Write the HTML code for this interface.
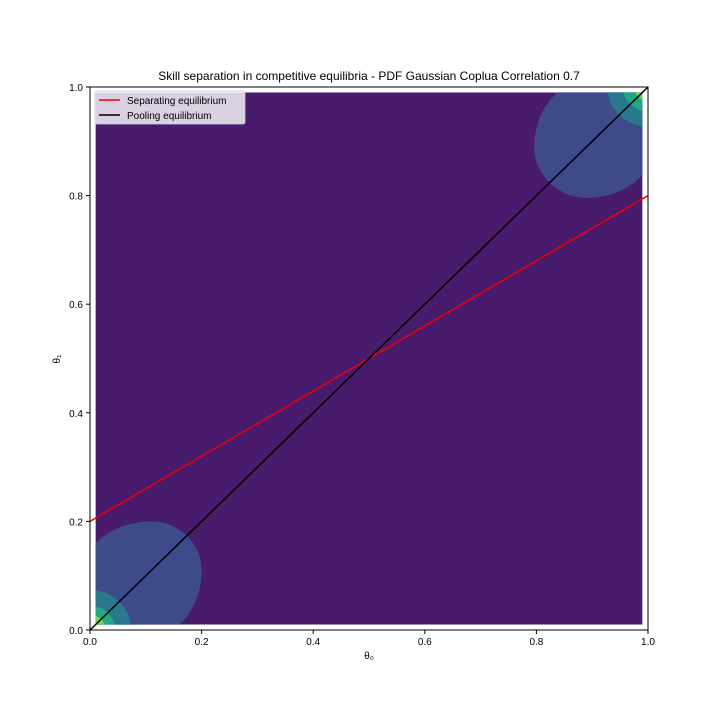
<!DOCTYPE html>
<html><head><meta charset="utf-8"><style>
body{margin:0;background:#fff;}
svg{font-family:"Liberation Sans","DejaVu Sans",sans-serif;}
</style></head><body>
<svg id="chart" width="720" height="720" viewBox="0 0 720 720" xmlns="http://www.w3.org/2000/svg">
<rect width="720" height="720" fill="#fff"/>
<defs><clipPath id="fillclip"><rect id="fcr" x="0" y="0" width="0" height="0"/></clipPath></defs>
<g id="contours" clip-path="url(#fillclip)"></g>
<g id="lines"></g>
<g id="axes"></g>
<text x="369" y="80" text-anchor="middle" font-size="12">Skill separation in competitive equilibria - PDF Gaussian Coplua Correlation 0.7</text>
<text x="369" y="659" text-anchor="middle" font-size="10">θ₀</text>
<text x="60" y="359" text-anchor="middle" font-size="10" transform="rotate(-90 60 359)">θ₁</text>
<g>
<rect x="95" y="91" width="150" height="33" rx="2" fill="#fff" fill-opacity="0.8" stroke="#ccc" stroke-opacity="0.8"/>
<line x1="99" y1="100" x2="120" y2="100" stroke="#e00" stroke-width="1.5"/>
<text x="127" y="104" font-size="10">Separating equilibrium</text>
<line x1="99" y1="115" x2="120" y2="115" stroke="#000" stroke-width="1.5"/>
<text x="127" y="119" font-size="10">Pooling equilibrium</text>
</g>
</svg>
<script>
const ticks=[0,0.2,0.4,0.6,0.8,1.0];
const tickLabels=["0.0","0.2","0.4","0.6","0.8","1.0"];
const gridMin=[0.01];
const gridMax=[0.99];
// contour blobs: center, radius toward plot centre (inner), radius toward corner (outer), level
const blobCx=[0.11,0.89,0.0,0.0,0.0,0.0,1.0,1.0,1.0];
const blobCy=[0.11,0.89,0.0,0.0,0.0,0.0,1.0,1.0,1.0];
const blobRin=[0.09,0.094,0.074,0.045,0.028,0.014,0.073,0.045,0.025];
const blobRout=[0.12,0.12,0.074,0.045,0.028,0.014,0.073,0.045,0.025];
const blobLevel=[1,1,2,3,4,5,2,3,4];
const levelColors=["#481b6d","#3e4a89","#2a788e","#22a884","#7ad151","#fde725"];
const sepX=[0,1],sepY=[0.2,0.8];
const poolX=[0,1],poolY=[0,1];
const X0=90,X1=648,Y0=630,Y1=87;
const sx=v=>X0+v*(X1-X0), sy=v=>Y0-v*(Y0-Y1);
const NS="http://www.w3.org/2000/svg";
function mk(t,a,p){const e=document.createElementNS(NS,t);for(const k in a)e.setAttribute(k,a[k]);p.appendChild(e);return e;}
const fcr=document.getElementById('fcr');
fcr.setAttribute('x',sx(gridMin[0]));fcr.setAttribute('y',sy(gridMax[0]));
fcr.setAttribute('width',sx(gridMax[0])-sx(gridMin[0]));fcr.setAttribute('height',sy(gridMin[0])-sy(gridMax[0]));
const cg=document.getElementById('contours');
const bg=mk('rect',{x:sx(gridMin[0]),y:sy(gridMax[0]),width:sx(gridMax[0])-sx(gridMin[0]),height:sy(gridMin[0])-sy(gridMax[0]),fill:levelColors[0]},cg);


function blobPath(i){
 const cx=blobCx[i],cy=blobCy[i];
 const towardHigh=cx<0.5; // inner direction = toward plot centre
 let d='';
 for(let k=0;k<=72;k++){
  const a=k/72*2*Math.PI, c=Math.cos(a), s=Math.sin(a);
  const rx=((c>0)===towardHigh)?blobRin[i]:blobRout[i];
  const ry=((s>0)===towardHigh)?blobRin[i]:blobRout[i];
  d+=(k?'L':'M')+sx(cx+rx*c).toFixed(2)+','+sy(cy+ry*s).toFixed(2);
 }
 return d+'Z';
}
const order=blobLevel.map((l,i)=>i).sort((a,b)=>blobLevel[a]-blobLevel[b]);
order.forEach(i=>{
 const e=mk('path',{d:blobPath(i),fill:levelColors[blobLevel[i]]},cg);
 
 
});
const lg=document.getElementById('lines');
const l1=mk('line',{x1:sx(sepX[0]),y1:sy(sepY[0]),x2:sx(sepX[1]),y2:sy(sepY[1]),stroke:'#e00','stroke-width':1.5},lg);


const l2=mk('line',{x1:sx(poolX[0]),y1:sy(poolY[0]),x2:sx(poolX[1]),y2:sy(poolY[1]),stroke:'#000','stroke-width':1.5},lg);


const ag=document.getElementById('axes');
const fr=mk('rect',{x:X0,y:Y1,width:X1-X0,height:Y0-Y1,fill:'none',stroke:'#000','stroke-width':1},ag);


ticks.forEach((t,i)=>{
 mk('line',{x1:sx(t),y1:Y0,x2:sx(t),y2:Y0+4,stroke:'#000'},ag);
 const xt=mk('text',{x:sx(t),y:Y0+15,'text-anchor':'middle','font-size':10},ag);xt.textContent=tickLabels[i];
 
 
 mk('line',{x1:X0-4,y1:sy(t),x2:X0,y2:sy(t),stroke:'#000'},ag);
 const yt=mk('text',{x:X0-7,y:sy(t)+4,'text-anchor':'end','font-size':10},ag);yt.textContent=tickLabels[i];
 
 
});
</script>
</body></html>
